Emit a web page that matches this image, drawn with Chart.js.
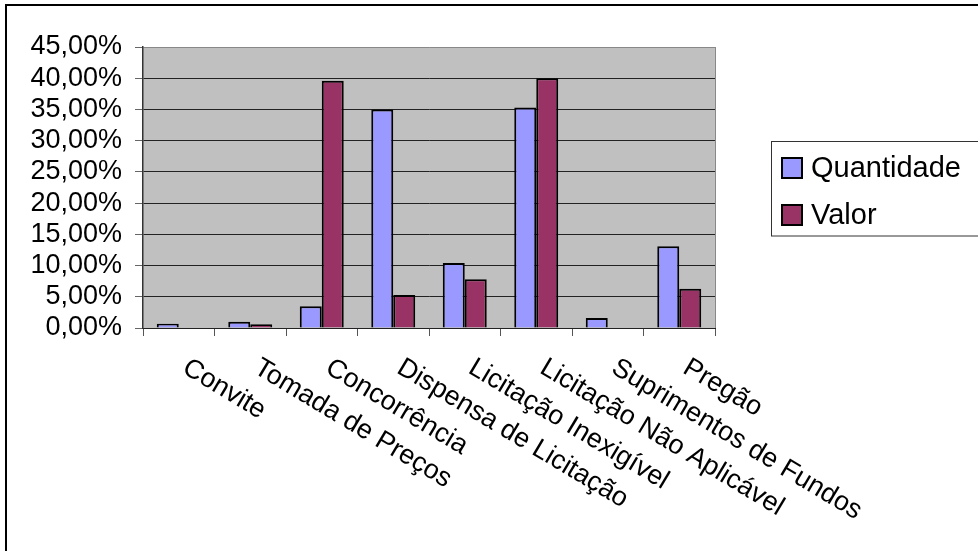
<!DOCTYPE html>
<html>
<head>
<meta charset="utf-8">
<script src="https://cdn.jsdelivr.net/npm/chart.js@4"></script>
<style>
  body { margin: 0; background: #fff; }
  canvas { display: block; }
</style>
</head>
<body>
<canvas id="chartjs-0" width="978" height="551"></canvas>
<script>
// categorias e valores (em %)
var categorias = ["Convite", "Tomada de Preços", "Concorrência", "Dispensa de Licitação",
    "Licitação Inexigível", "Licitação Não Aplicável", "Suprimentos de Fundos", "Pregão"];
var quantidade = [0.7, 1.0, 3.5, 35.0, 10.4, 35.3, 1.6, 13.1];
var valor = [0, 0.6, 39.6, 5.3, 7.8, 40.0, 0, 6.3];
var seriesNames = ["Quantidade", "Valor"];
var yMax = 45;
var yStep = 5;

var fontFamily = "'Liberation Sans', Arial, sans-serif";

/* desenha borda externa, borda do grafico, rotulos e legenda */
var excelLook = {
    id: "excelLook",
    beforeDraw: function (chart) {
        var c = chart.ctx;
        c.save();
        c.fillStyle = "#fff";
        c.fillRect(0, 0, chart.width, chart.height);
        c.strokeStyle = "#000";
        c.lineWidth = 2;
        c.beginPath();
        c.moveTo(6, chart.height + 2);
        c.lineTo(6, 5);
        c.lineTo(chart.width + 2, 5);
        c.stroke();
        var a = chart.chartArea;
        c.fillStyle = "#c0c0c0";
        c.fillRect(a.left, a.top, a.right - a.left, a.bottom - a.top);
        c.restore();
    },
    afterDraw: function (chart) {
        var c = chart.ctx;
        var a = chart.chartArea;
        var xs = chart.scales.x;
        c.save();
        // borda direita da area do grafico
        c.strokeStyle = "#888";
        c.lineWidth = 1;
        c.beginPath();
        c.moveTo(a.right + 0.5, a.top);
        c.lineTo(a.right + 0.5, a.bottom);
        c.stroke();

        // rotulos inclinados
        c.fillStyle = "#000";
        c.font = "27px " + fontFamily;
        c.textAlign = "left";
        c.textBaseline = "top";
        for (var i = 0; i < categorias.length; i++) {
            var px = xs.getPixelForValue(i);
            c.save();
            c.translate(px + 13, 354);
            c.rotate(31 * Math.PI / 180);
            c.fillText(categorias[i], 0, 0);
            c.restore();
        }

        // legenda
        c.strokeStyle = "#333";
        c.lineWidth = 1;
        c.strokeRect(771.5, 141.5, 300, 94.5);
        c.font = "29px " + fontFamily;
        c.textBaseline = "alphabetic";
        var ds = chart.data.datasets;
        var rows = [158, 205];
        for (var j = 0; j < ds.length; j++) {
            c.fillStyle = ds[j].backgroundColor;
            c.fillRect(782, rows[j], 20, 20);
            c.strokeStyle = "#000";
            c.lineWidth = 2;
            c.strokeRect(782, rows[j], 20, 20);
            c.fillStyle = "#000";
            c.fillText(ds[j].label, 811, rows[j] + 19);
        }
        c.restore();
    }
};

var ctx0 = document.getElementById("chartjs-0");
var myChart = new Chart(ctx0, {
    type: "bar",
    data: {
        labels: categorias,
        datasets: [
            { label: seriesNames[0], data: quantidade, backgroundColor: "#9999ff",
              borderColor: "#000", borderWidth: 2, borderSkipped: "start" },
            { label: seriesNames[1], data: valor, backgroundColor: "#993366",
              borderColor: "#000", borderWidth: 2, borderSkipped: "start" }
        ]
    },
    options: {
        responsive: false,
        animation: false,
        layout: { padding: { left: 0, top: 47, right: 263, bottom: 0 } },
        categoryPercentage: 0.615,
        barPercentage: 1.0,
        plugins: {
            legend: { display: false },
            tooltip: { enabled: false }
        },
        scales: {
            x: {
                offset: true,
                grid: { offset: true, drawOnChartArea: false, drawTicks: true,
                        tickLength: 8, tickColor: "#555" },
                border: { color: "#222", width: 1 },
                ticks: { display: false },
                afterFit: function (s) { s.height = 223; }
            },
            y: {
                min: 0,
                max: yMax,
                grid: {
                    color: function (ctx) { return ctx.tick && ctx.tick.value === yMax ? "#888" : "#222"; },
                    tickColor: "#666",
                    tickLength: 8
                },
                border: { color: "#333", width: 1.5 },
                ticks: {
                    stepSize: yStep,
                    autoSkip: false,
                    color: "#000",
                    padding: 13,
                    font: { family: fontFamily, size: 27 },
                    callback: function (v) { return v.toFixed(2).replace(".", ",") + "%"; }
                },
                afterFit: function (s) { s.width = 143; }
            }
        }
    },
    plugins: [excelLook]
});
</script>
</body>
</html>
